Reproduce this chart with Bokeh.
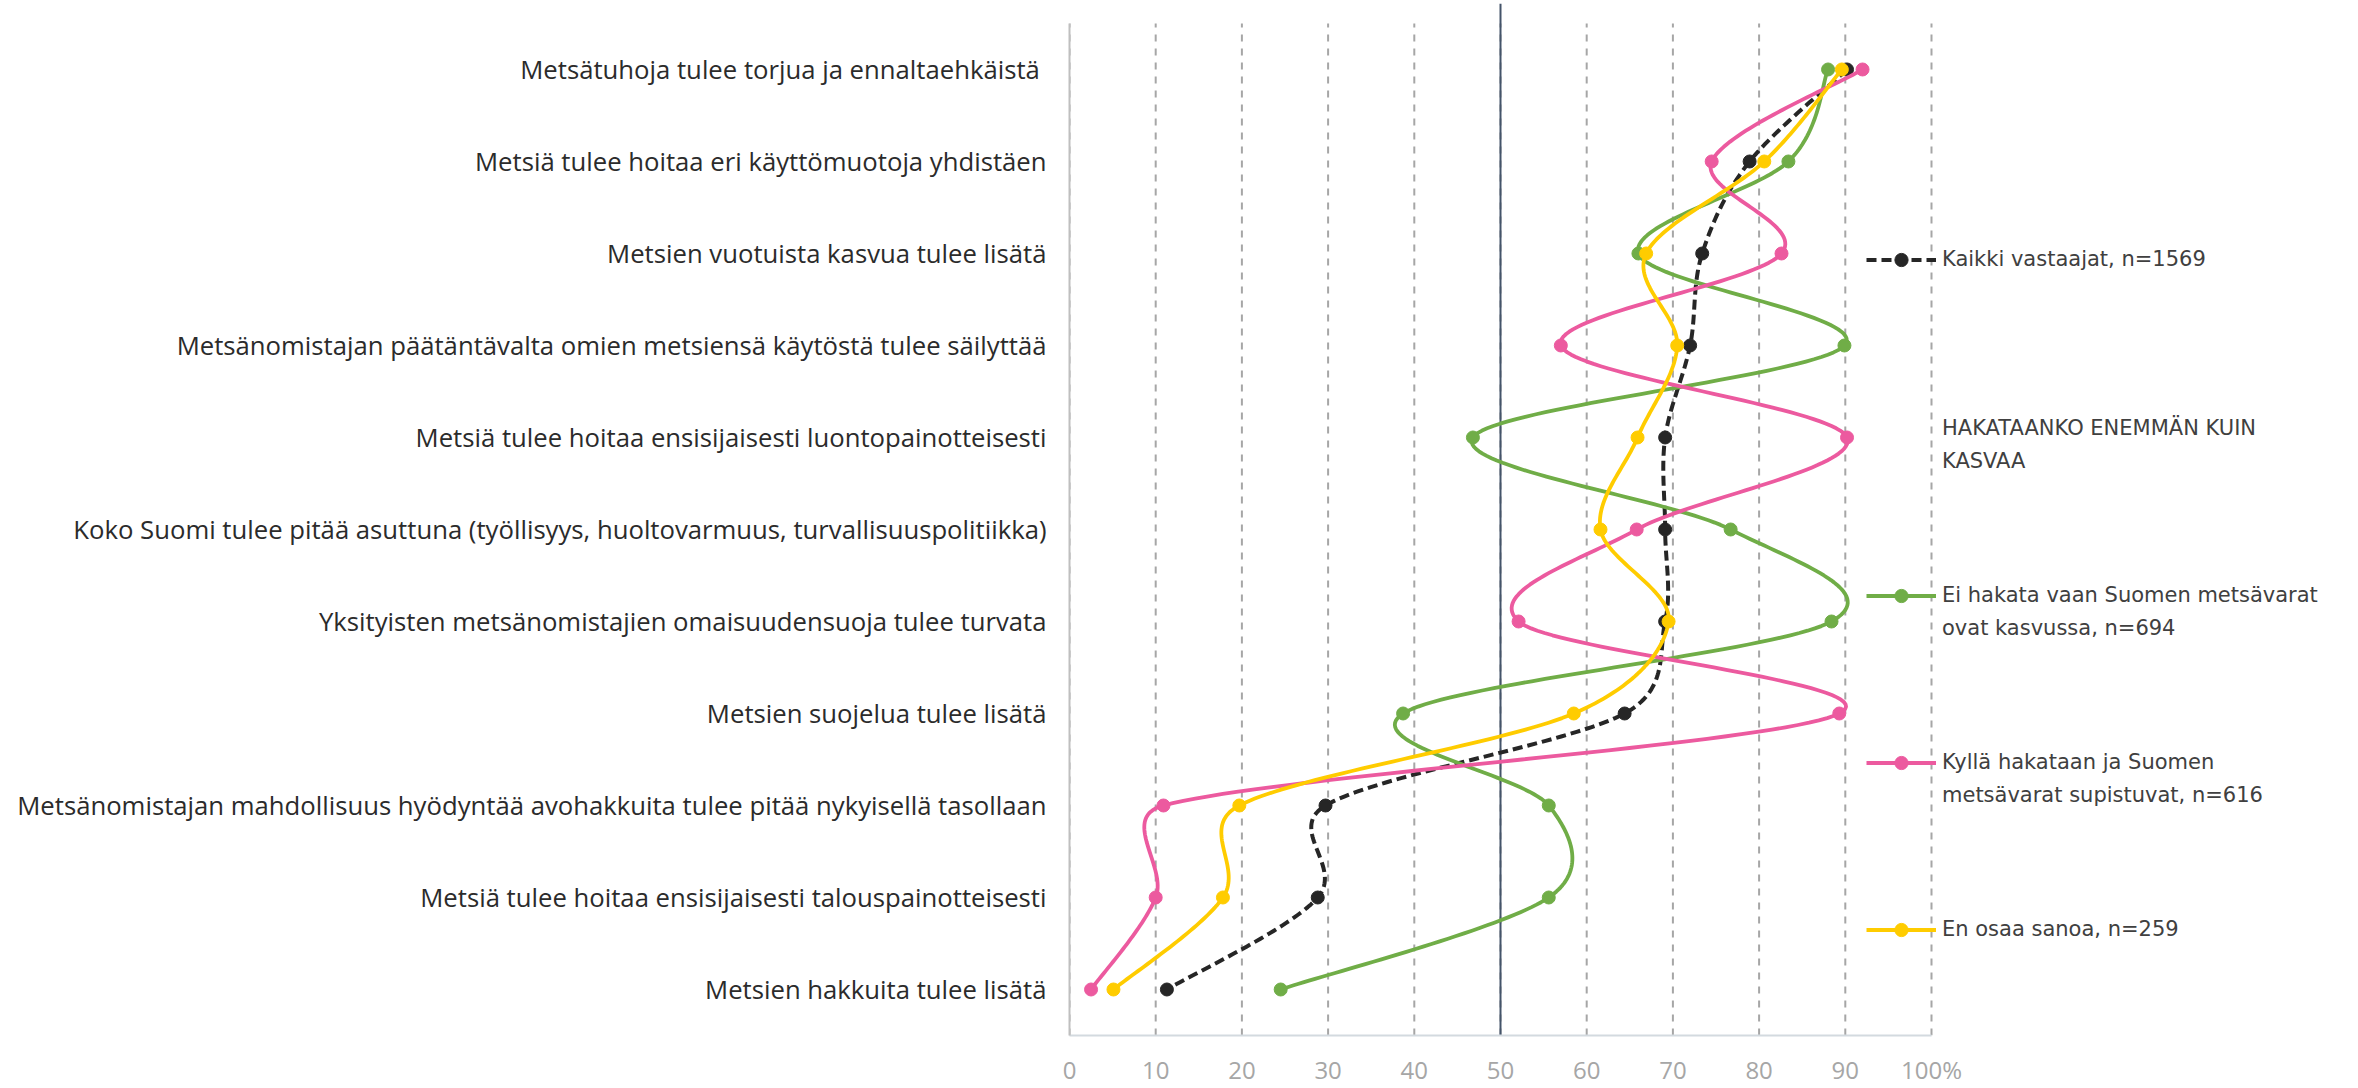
import numpy as np
from bokeh.plotting import figure
from bokeh.models import Range1d, FixedTicker, Span, Legend, LegendItem, ColumnDataSource
from bokeh.embed import file_html
from bokeh.resources import INLINE

# ---------------- data ----------------
categories = [
    "Metsätuhoja tulee torjua ja ennaltaehkäistä ",
    "Metsiä tulee hoitaa eri käyttömuotoja yhdistäen",
    "Metsien vuotuista kasvua tulee lisätä",
    "Metsänomistajan päätäntävalta omien metsiensä käytöstä tulee säilyttää",
    "Metsiä tulee hoitaa ensisijaisesti luontopainotteisesti",
    "Koko Suomi tulee pitää asuttuna (työllisyys, huoltovarmuus, turvallisuuspolitiikka)",
    "Yksityisten metsänomistajien omaisuudensuoja tulee turvata",
    "Metsien suojelua tulee lisätä",
    "Metsänomistajan mahdollisuus hyödyntää avohakkuita tulee pitää nykyisellä tasollaan",
    "Metsiä tulee hoitaa ensisijaisesti talouspainotteisesti",
    "Metsien hakkuita tulee lisätä",
]

kaikki = [90.2, 78.9, 73.4, 72.0, 69.1, 69.1, 69.1, 64.4, 29.7, 28.8, 11.3]
ei_hakata = [88.0, 83.4, 66.0, 89.9, 46.8, 76.7, 88.4, 38.7, 55.6, 55.6, 24.5]
kylla_hakataan = [92.0, 74.5, 82.6, 57.0, 90.2, 65.8, 52.1, 89.3, 10.9, 10.0, 2.5]
en_osaa = [89.6, 80.6, 66.9, 70.5, 65.9, 61.6, 69.5, 58.5, 19.7, 17.8, 5.1]

series_labels = [
    ["Kaikki vastaajat, n=1569"],
    ["Ei hakata vaan Suomen metsävarat", "ovat kasvussa, n=694"],
    ["Kyllä hakataan ja Suomen", "metsävarat supistuvat, n=616"],
    ["En osaa sanoa, n=259"],
]
legend_title = ["HAKATAANKO ENEMMÄN KUIN", "KASVAA"]

x_ticks = [0, 10, 20, 30, 40, 50, 60, 70, 80, 90, 100]
x_tick_labels = ["0", "10", "20", "30", "40", "50", "60", "70", "80", "90", "100%"]
reference_value = 50

# ---------------- layout ----------------
W, H = 2358, 1088
BL, BR, BT, BB = 1069, 0, 3, 52
frame_w = W - BL - BR
frame_h = H - BT - BB
px_per_pct = 8.62
band_top_px = 23          # top of the category bands (page px)
n = len(categories)
row_px = (H - BB - band_top_px) / n
x_end = frame_w / px_per_pct
y_start = 0.5
y_end = y_start + frame_h / row_px

yvals = [n - k for k in range(n)]

colors = ["#262626", "#70ad47", "#ec5a9f", "#ffcc00"]
dashes = ["10 5", "solid", "solid", "solid"]
widths = [4, 3.8, 3.8, 3.8]
series = [kaikki, ei_hakata, kylla_hakataan, en_osaa]


def excel_smooth(xs, ys, sx, sy, steps=40):
    P = np.column_stack([np.asarray(xs, float) * sx, np.asarray(ys, float) * sy])
    m = len(P)
    out = [P[0]]
    for i in range(m - 1):
        p0 = P[i - 1] if i > 0 else P[i]
        p1 = P[i]
        p2 = P[i + 1]
        p3 = P[i + 2] if i + 2 < m else P[i + 1]
        d12 = np.hypot(*(p2 - p1))
        d02 = np.hypot(*(p2 - p0))
        d13 = np.hypot(*(p3 - p1))
        f = 1 / 6 if (d02 == 0 or d02 / 6 < d12 / 2) else d12 / (2 * d02)
        g = 1 / 6 if (d13 == 0 or d13 / 6 < d12 / 2) else d12 / (2 * d13)
        c1 = p1 + f * (p2 - p0)
        c2 = p2 - g * (p3 - p1)
        t = np.linspace(0, 1, steps + 1)[1:, None]
        seg = (1 - t) ** 3 * p1 + 3 * (1 - t) ** 2 * t * c1 + 3 * (1 - t) * t ** 2 * c2 + t ** 3 * p2
        out.extend(seg)
    out = np.array(out)
    return out[:, 0] / sx, out[:, 1] / sy


p = figure(width=W, height=H, x_range=Range1d(0, x_end), y_range=Range1d(y_start, y_end),
           output_backend="svg", toolbar_location=None,
           min_border_left=BL, min_border_right=BR, min_border_top=BT, min_border_bottom=BB)
p.outline_line_color = None
p.background_fill_color = "white"
p.border_fill_color = "white"
p.xgrid.visible = False
p.ygrid.visible = False

# x axis
p.xaxis.ticker = FixedTicker(ticks=x_ticks)
p.xaxis.major_label_overrides = {t: l for t, l in zip(x_ticks, x_tick_labels)}
p.xaxis.bounds = (x_ticks[0], x_ticks[-1])
p.xaxis.axis_line_color = "#d3dadf"
p.xaxis.axis_line_width = 2
p.xaxis.major_tick_line_color = None
p.xaxis.minor_tick_line_color = None
p.xaxis.major_tick_out = 0
p.xaxis.major_tick_in = 0
p.xaxis.minor_tick_out = 0
p.xaxis.major_label_text_font = "Open Sans"
p.xaxis.major_label_text_font_size = "24px"
p.xaxis.major_label_text_color = "#a6a6a6"
p.xaxis.major_label_standoff = 17

# y axis (categories)
p.yaxis.ticker = FixedTicker(ticks=yvals)
p.yaxis.major_label_overrides = {y: c for y, c in zip(yvals, categories)}
p.yaxis.bounds = (0.5, n + 0.5)
p.yaxis.axis_line_color = "#bfbfbf"
p.yaxis.axis_line_width = 2
p.yaxis.major_tick_line_color = None
p.yaxis.minor_tick_line_color = None
p.yaxis.major_tick_out = 0
p.yaxis.major_tick_in = 0
p.yaxis.minor_tick_out = 0
p.yaxis.major_label_text_font = "Open Sans"
p.yaxis.major_label_text_font_size = "25.7px"
p.yaxis.major_label_text_color = "#2b2b2b"
p.yaxis.major_label_standoff = 23

# dashed vertical gridlines, spanning the category bands
grid_src = ColumnDataSource(dict(x=x_ticks, y0=[0.5] * len(x_ticks), y1=[n + 0.5] * len(x_ticks)))
p.segment(x0="x", y0="y0", x1="x", y1="y1", source=grid_src,
          line_color="#a6a6a6", line_width=2, line_dash="7 7", level="underlay")

ref = Span(location=reference_value, dimension="height", line_color="#44546a", line_width=2, level="underlay")
p.add_layout(ref)

renderers = []
for vals, col, dash, lw in zip(series, colors, dashes, widths):
    sx_, sy_ = excel_smooth(vals, yvals, px_per_pct, row_px)
    lr = p.line(sx_, sy_, line_color=col, line_width=lw, line_dash=dash, line_join="round")
    mr = p.scatter(vals, yvals, size=13, fill_color=col, line_color=col, marker="circle")
    renderers.append([lr, mr])

# legend: entries placed at fixed page positions
glyph_left_page = 1866
frame_left_page = BL
frame_bottom_page = BT + frame_h
pitch = 33


def add_legend(lines, rends, first_center_page):
    items = [LegendItem(label=lines[0], renderers=rends)]
    for extra in lines[1:]:
        items.append(LegendItem(label=extra, renderers=[]))
    top = first_center_page - pitch / 2
    bottom = top + pitch * len(lines)
    leg = Legend(items=items, location=(glyph_left_page - frame_left_page, frame_bottom_page - bottom),
                 padding=0, spacing=0, margin=0, glyph_width=70, glyph_height=pitch,
                 label_height=pitch, label_standoff=6, border_line_color=None,
                 background_fill_alpha=0, label_text_font="DejaVu Sans",
                 label_text_font_size="21px", label_text_color="#404040")
    p.add_layout(leg)


add_legend(series_labels[0], renderers[0], 260)
add_legend(legend_title, [], 429)
add_legend(series_labels[1], renderers[1], 596)
add_legend(series_labels[2], renderers[2], 763)
add_legend(series_labels[3], renderers[3], 930)

open("out.html", "w").write(file_html(p, INLINE))
